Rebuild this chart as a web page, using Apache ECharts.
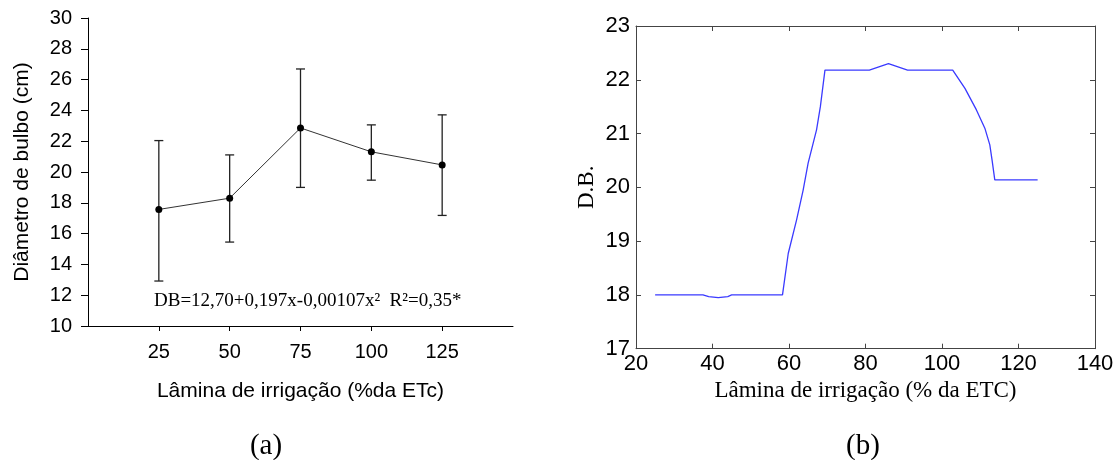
<!DOCTYPE html>
<html>
<head>
<meta charset="utf-8">
<script src="https://cdn.jsdelivr.net/npm/echarts@6/dist/echarts.min.js"></script>
<style>
html,body{margin:0;padding:0;background:#fff;}
#chart{width:1119px;height:460px;}
</style>
</head>
<body>
<div id="chart"></div>
<script>
// ---- Panel (a) data ----
const categoriesA = [25, 50, 75, 100, 125];
const meanA  = [17.57, 18.30, 22.86, 21.31, 20.46];
const upperA = [22.04, 21.11, 26.69, 23.06, 23.71];
const lowerA = [12.92, 15.45, 19.00, 19.47, 17.18];
const equationA = 'DB=12,70+0,197x-0,00107x\u00B2  R\u00B2=0,35*';

// ---- Panel (b) data ----
const xB = [25, 37.5, 39, 41.5, 44, 45, 58.3, 59.8, 62, 63.7, 65, 67.2, 68.2, 69.4,
            81, 86, 91, 102.8, 106, 109, 111.2, 112.5, 113.1, 113.8, 125];
const yB = [18.0, 18.0, 17.97, 17.95, 17.97, 18.0, 18.0, 18.77, 19.4, 19.95, 20.45, 21.07, 21.5, 22.18,
            22.18, 22.3, 22.18, 22.18, 21.84, 21.44, 21.1, 20.79, 20.5, 20.14, 20.14];

const SANS = '"Liberation Sans", Arial, sans-serif';
const SERIF = '"Liberation Serif", "Times New Roman", serif';

const chart = echarts.init(document.getElementById('chart'), null, {renderer: 'canvas'});

const boxAxisLine = {show: true, lineStyle: {color: '#444', width: 1}};
const boxTick = {show: true, inside: true, length: 5, lineStyle: {color: '#444'}};

const option = {
  animation: false,
  backgroundColor: '#fff',
  grid: [
    {left: 88, top: 18, width: 425, height: 308, containLabel: false},
    {left: 636, top: 26, width: 459, height: 322.7, containLabel: false}
  ],
  xAxis: [
    {
      gridIndex: 0, type: 'value', min: 0, max: 150,
      axisLine: {show: true, onZero: false, lineStyle: {color: '#000', width: 1}},
      axisTick: {show: true, inside: false, length: 5, customValues: categoriesA, lineStyle: {color: '#000'}},
      axisLabel: {show: true, customValues: categoriesA, fontSize: 20, fontFamily: SANS, color: '#000', margin: 16},
      splitLine: {show: false},
      name: 'Lâmina de irrigação (%da ETc)', nameLocation: 'middle', nameGap: 55,
      nameTextStyle: {fontSize: 21, fontFamily: SANS, color: '#000'}
    },
    {
      gridIndex: 1, type: 'value', min: 20, max: 140, interval: 20, position: 'bottom',
      axisLine: Object.assign({onZero: false}, boxAxisLine),
      axisTick: boxTick,
      axisLabel: {show: true, fontSize: 22, fontFamily: SANS, color: '#000', margin: 4},
      splitLine: {show: false},
      name: 'Lâmina de irrigação (% da ETC)', nameLocation: 'middle', nameGap: 31,
      nameTextStyle: {fontSize: 23, fontFamily: SERIF, color: '#000'}
    },
    {
      gridIndex: 1, type: 'value', min: 20, max: 140, interval: 20, position: 'top',
      axisLine: Object.assign({onZero: false}, boxAxisLine),
      axisTick: boxTick,
      axisLabel: {show: false},
      splitLine: {show: false}
    }
  ],
  yAxis: [
    {
      gridIndex: 0, type: 'value', min: 10, max: 30, interval: 2,
      axisLine: {show: true, onZero: false, lineStyle: {color: '#000', width: 1}},
      axisTick: {show: true, inside: false, length: 7, lineStyle: {color: '#000'}},
      axisLabel: {show: true, fontSize: 20, fontFamily: SANS, color: '#000', margin: 16},
      splitLine: {show: false},
      name: 'Diâmetro de bulbo (cm)', nameLocation: 'middle', nameGap: 55, nameRotate: 90,
      nameTextStyle: {fontSize: 21, fontFamily: SANS, color: '#000'}
    },
    {
      gridIndex: 1, type: 'value', min: 17, max: 23, interval: 1, position: 'left',
      axisLine: Object.assign({onZero: false}, boxAxisLine),
      axisTick: boxTick,
      axisLabel: {show: true, fontSize: 22, fontFamily: SANS, color: '#000', margin: 6},
      splitLine: {show: false},
      name: 'D.B.', nameLocation: 'middle', nameGap: 38, nameRotate: 90,
      nameTextStyle: {fontSize: 23, fontFamily: SERIF, color: '#000'}
    },
    {
      gridIndex: 1, type: 'value', min: 17, max: 23, interval: 1, position: 'right',
      axisLine: Object.assign({onZero: false}, boxAxisLine),
      axisTick: boxTick,
      axisLabel: {show: false},
      splitLine: {show: false}
    }
  ],
  series: [
    {
      type: 'custom',
      xAxisIndex: 0, yAxisIndex: 0,
      data: categoriesA.map((c, i) => [c, lowerA[i], upperA[i]]),
      encode: {x: 0, y: [1, 2]},
      z: 2,
      renderItem: function (params, api) {
        const x = api.value(0);
        const pHi = api.coord([x, api.value(2)]);
        const pLo = api.coord([x, api.value(1)]);
        const hw = 4.5;
        const st = {stroke: '#222', lineWidth: 1.3};
        return {
          type: 'group',
          children: [
            {type: 'line', shape: {x1: pHi[0], y1: pHi[1], x2: pLo[0], y2: pLo[1]}, style: st},
            {type: 'line', shape: {x1: pHi[0] - hw, y1: pHi[1], x2: pHi[0] + hw, y2: pHi[1]}, style: st},
            {type: 'line', shape: {x1: pLo[0] - hw, y1: pLo[1], x2: pLo[0] + hw, y2: pLo[1]}, style: st}
          ]
        };
      }
    },
    {
      type: 'line',
      xAxisIndex: 0, yAxisIndex: 0,
      data: categoriesA.map((c, i) => [c, meanA[i]]),
      symbol: 'circle', symbolSize: 7,
      itemStyle: {color: '#000'},
      lineStyle: {color: '#333', width: 1},
      z: 3
    },
    {
      type: 'line',
      xAxisIndex: 1, yAxisIndex: 1,
      data: xB.map((x, i) => [x, yB[i]]),
      showSymbol: false, symbol: 'none',
      lineStyle: {color: '#3a3aff', width: 1.3}
    }
  ],
  graphic: [
    {type: 'text', left: 154, top: 292,
     style: {text: equationA, font: '19px ' + SERIF, fill: '#000'}},
    {type: 'text', x: 266, y: 446,
     style: {text: '(a)', font: '29px ' + SERIF, fill: '#000', align: 'center', verticalAlign: 'middle'}},
    {type: 'text', x: 863, y: 446,
     style: {text: '(b)', font: '29px ' + SERIF, fill: '#000', align: 'center', verticalAlign: 'middle'}}
  ]
};
chart.setOption(option);
</script>
</body>
</html>
